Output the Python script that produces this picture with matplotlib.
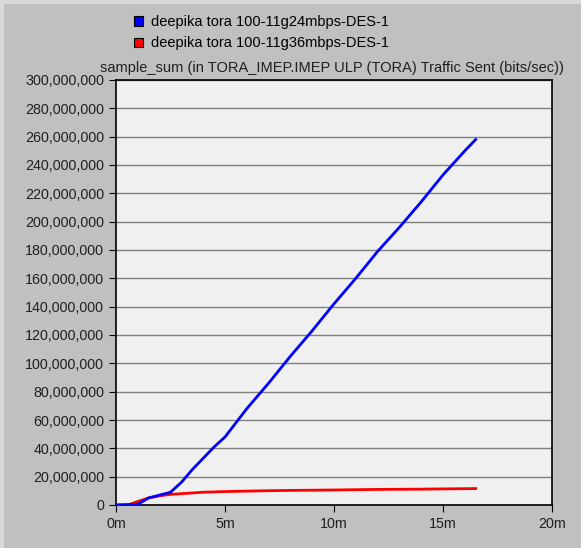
import matplotlib.pyplot as plt
from matplotlib.patches import Patch, Rectangle
from matplotlib.ticker import FuncFormatter

plt.rcParams['font.family'] = ['Liberation Sans', 'DejaVu Sans']

# time in minutes
blue_t = [0, 0.5, 1.0, 1.5, 2.0, 2.5, 3.0, 3.5, 4.0, 4.5, 5.0, 5.5, 6, 7, 8, 9, 10, 11, 12, 13, 14, 15, 16, 16.5]
blue_v = [0, 0.2e6, 0.5e6, 5e6, 7e6, 9e6, 16e6, 25e6, 33e6, 41e6, 48e6, 58e6, 68e6, 86e6, 105e6, 123e6,
          142e6, 160e6, 179e6, 196e6, 214e6, 233e6, 250e6, 258e6]
red_t = [0, 0.6, 1.0, 1.5, 2.0, 2.5, 3.0, 3.5, 4, 5, 6, 7, 8, 10, 12, 14, 16.5]
red_v = [0, 0.3e6, 2.5e6, 5e6, 6.5e6, 7.5e6, 8e6, 8.5e6, 9e6, 9.5e6, 9.8e6, 10.1e6, 10.3e6, 10.6e6, 11e6, 11.2e6, 11.6e6]

labels = ['deepika tora 100-11g24mbps-DES-1', 'deepika tora 100-11g36mbps-DES-1']
colors = ['#0000ff', '#ff0000']
title = 'sample_sum (in TORA_IMEP.IMEP ULP (TORA) Traffic Sent (bits/sec))'

fig = plt.figure(figsize=(5.81, 5.48), dpi=100, facecolor='#c0c0c0')
# lighter frame on the left and top edges
fig.add_artist(Rectangle((0, 0), 4 / 581, 1, transform=fig.transFigure, color='#d8d8d8', lw=0))
fig.add_artist(Rectangle((0, 1 - 4 / 548), 1, 4 / 548, transform=fig.transFigure, color='#d8d8d8', lw=0))

ax = fig.add_axes([116 / 581, 43 / 548, 436 / 581, 425 / 548])
ax.set_facecolor('#f0f0f0')

ax.plot(red_t, red_v, color=colors[1], lw=2, zorder=3)
ax.plot(blue_t, blue_v, color=colors[0], lw=2, zorder=4)

ax.set_xlim(0, 20)
ax.set_ylim(0, 300e6)
ax.set_xticks([0, 5, 10, 15, 20])
ax.xaxis.set_major_formatter(FuncFormatter(lambda v, p: f'{int(v)}m'))
ax.set_yticks(range(0, 300000001, 20000000))
ax.yaxis.set_major_formatter(FuncFormatter(lambda v, p: f'{int(v):,}'))
ax.tick_params(labelsize=10.3, direction='out', length=5, color='black', labelcolor='#202020')
ax.grid(axis='y', color='#808080', lw=1)
ax.set_axisbelow(True)
for s in ax.spines.values():
    s.set_color('black')
    s.set_linewidth(1.2)

fig.text(564 / 581, 1 - 68 / 548, title, ha='right', va='center', fontsize=10.5, color='#202020')

handles = [Patch(facecolor=c, edgecolor='black', lw=0.8) for c in colors]
fig.legend(handles, labels, loc='upper left', bbox_to_anchor=(121 / 581, 1 - 2 / 548), frameon=False,
           fontsize=10.5, handlelength=0.6, handleheight=0.6, handletextpad=0.55, labelspacing=0.5)

fig.savefig('out.png', dpi=100, facecolor=fig.get_facecolor())
